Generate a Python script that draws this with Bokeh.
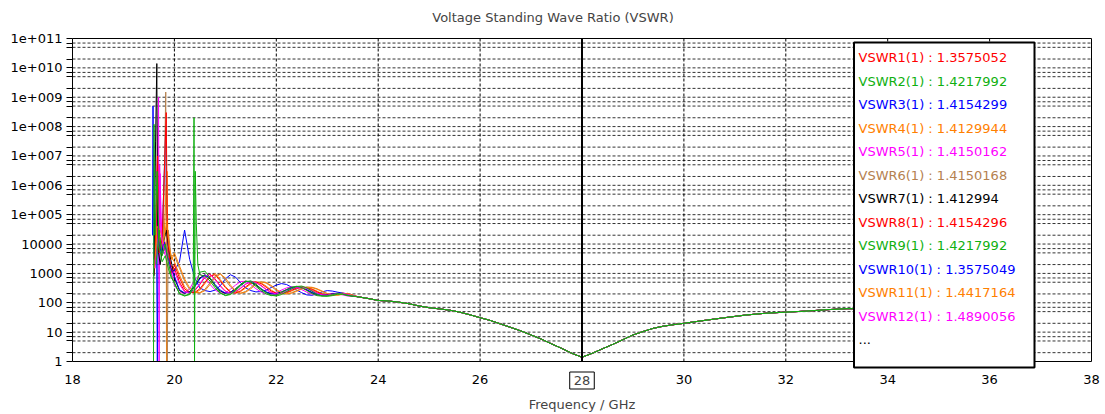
from bokeh.plotting import figure
from bokeh.models import Range1d, FixedTicker, Label, BoxAnnotation
from bokeh.embed import file_html
from bokeh.resources import INLINE

# ---------------- data ----------------
x_ticks = [18, 20, 22, 24, 26, 28, 30, 32, 34, 36, 38]
x_tick_labels = ["18", "20", "22", "24", "26", "28", "30", "32", "34", "36", "38"]
y_ticks = [1, 10, 100, 1000, 10000, 10**5, 10**6, 10**7, 10**8, 10**9, 10**10, 10**11]
y_tick_labels = ["1", "10", "100", "1000", "10000", "1e+005", "1e+006", "1e+007",
                 "1e+008", "1e+009", "1e+010", "1e+011"]
y_minor_mantissas = [2, 5, 7]

legend_names = ["VSWR1(1)", "VSWR2(1)", "VSWR3(1)", "VSWR4(1)", "VSWR5(1)", "VSWR6(1)",
                "VSWR7(1)", "VSWR8(1)", "VSWR9(1)", "VSWR10(1)", "VSWR11(1)", "VSWR12(1)"]
legend_values = ["1.3575052", "1.4217992", "1.4154299", "1.4129944", "1.4150162", "1.4150168",
                 "1.412994", "1.4154296", "1.4217992", "1.3575049", "1.4417164", "1.4890056"]
colors = ["#ff0000", "#10b010", "#0000ff", "#ff8000", "#ff00ff", "#b5814f",
          "#000000", "#ff0000", "#10b010", "#0000ff", "#ff8000", "#ff00ff"]

osc_freq = [20.0, 20.1, 20.2, 20.3, 20.4, 20.5, 20.6, 20.7, 20.8, 20.9, 21.0, 21.1, 21.2,
            21.3, 21.4, 21.5, 21.6, 21.7, 21.8, 21.9, 22.0, 22.1, 22.2, 22.3, 22.4, 22.5,
            22.6, 22.7, 22.8, 22.9, 23.0, 23.1, 23.2, 23.3, 23.4]

tail_freq = [23.6, 23.8, 24.0, 24.2, 24.4, 24.6, 24.8, 25.0, 25.2, 25.4, 25.6, 25.8, 26.0,
             26.2, 26.4, 26.6, 26.8, 27.0, 27.2, 27.4, 27.6, 27.8, 28.0, 28.2, 28.4, 28.6,
             28.8, 29.0, 29.2, 29.4, 29.6, 29.8, 30.0, 30.4, 30.8, 31.2, 31.6, 32.0, 32.4,
             32.8, 33.2, 33.6, 34.0, 34.5, 35.0]
tail_vswr = [160, 140, 120, 115, 105, 93, 78, 68, 62, 56, 48, 39, 31, 25, 19, 14.5, 11, 8,
             5.8, 4.0, 2.8, 1.9, 1.4, 1.9, 2.7, 3.8, 5.5, 8.0, 10.5, 13.5, 16, 18, 20, 25,
             31, 38, 44, 48, 52, 58, 63, 62, 62, 65, 68]

# resonance region (below 20 GHz), per series; 1.0 = drop to the bottom of the scale
sp1_f = [19.60, 19.64, 19.67, 19.69, 19.72, 19.76, 19.80, 19.84, 19.88, 19.93]
sp1_v = [900, 5000, 2e7, 4e4, 8000, 3e4, 6000, 1.2e4, 4000, 1800]
sp2_f = [19.59, 19.60, 19.62, 19.66, 19.70, 19.76, 19.82, 19.88, 19.94]
sp2_v = [1.0, 1.2e8, 2e4, 3e6, 8000, 2500, 4000, 1500, 700]
sp3_f = [19.57, 19.58, 19.60, 19.65, 19.665, 19.68, 19.75, 19.83, 19.845, 19.87, 19.93]
sp3_v = [2e4, 5e8, 3000, 1e4, 1.0, 2e4, 5000, 1e8, 5e4, 8000, 1500]
sp4_f = [19.62, 19.68, 19.74, 19.80, 19.84, 19.845, 19.855, 19.87, 19.92]
sp4_v = [3000, 2e4, 6000, 2e4, 1e6, 1.0, 3e6, 2e4, 4000]
sp5_f = [19.63, 19.69, 19.70, 19.71, 19.75, 19.82, 19.88, 19.94]
sp5_v = [4000, 1e9, 1.0, 5e6, 3e4, 6000, 3000, 1200]
sp6_f = [19.62, 19.70, 19.78, 19.83, 19.86, 19.88, 19.93]
sp6_v = [5000, 2e4, 8000, 1.5e9, 1.0, 3e4, 4000]
sp7_f = [19.60, 19.63, 19.655, 19.67, 19.72, 19.78, 19.84, 19.90, 19.95]
sp7_v = [800, 3e7, 1.4e10, 1e4, 2000, 1e4, 3e4, 5000, 2000]
sp8_f = [19.62, 19.67, 19.70, 19.76, 19.84, 19.86, 19.90, 19.95]
sp8_v = [3000, 1e7, 5000, 1.5e4, 3e8, 3e4, 4000, 1000]
sp10_f = [19.63, 19.68, 19.74, 19.80, 19.86, 19.93]
sp10_v = [2000, 1.5e4, 5000, 1.2e4, 4000, 1500]
sp11_f = [19.61, 19.66, 19.72, 19.78, 19.85, 19.90, 19.95]
sp11_v = [1500, 4e4, 3e4, 1e4, 6e4, 8000, 3000]
sp12_f = [19.62, 19.67, 19.72, 19.73, 19.80, 19.87, 19.94]
sp12_v = [1500, 1e4, 2.5e6, 3e4, 5000, 3000, 900]

# ripple region 20.0 - 23.4 GHz (on osc_freq)
osc1 = [1500, 500, 250, 220, 260, 420, 750, 950, 640, 380, 250, 215, 235, 310, 430, 530, 500,
        390, 285, 225, 200, 210, 240, 290, 335, 345, 310, 260, 215, 188, 182, 190, 205, 208, 195]
osc2 = [500, 200, 170, 190, 350, 1100, 1200, 700, 380, 220, 175, 190, 260, 380, 520, 560, 430,
        300, 220, 180, 170, 190, 240, 300, 360, 370, 320, 250, 195, 170, 165, 175, 195, 200, 180]
osc3 = [1200, 2500, 30000, 3000, 700, 320, 260, 240, 270, 380, 650, 900, 750, 480, 320, 260, 235,
        240, 270, 330, 400, 450, 420, 340, 270, 220, 185, 180, 200, 235, 260, 250, 230, 215, 200]
osc4 = [2500, 900, 350, 230, 215, 270, 450, 780, 1000, 620, 360, 240, 210, 240, 320, 440, 520,
        480, 370, 270, 215, 200, 215, 250, 300, 340, 335, 300, 250, 205, 185, 180, 195, 210, 205]
osc5 = [400, 220, 215, 300, 600, 950, 700, 420, 270, 215, 220, 290, 400, 530, 540, 420, 300,
        235, 200, 200, 225, 270, 320, 350, 330, 280, 230, 195, 180, 182, 195, 210, 208, 185, 170]
osc6 = [4000, 1500, 550, 280, 220, 220, 290, 480, 800, 1000, 600, 350, 240, 210, 245, 330, 450,
        520, 470, 360, 265, 215, 200, 220, 260, 310, 345, 330, 290, 240, 200, 185, 183, 198, 210]
osc7 = [700, 260, 210, 240, 380, 700, 900, 650, 380, 250, 210, 230, 300, 420, 540, 520, 400,
        290, 230, 200, 205, 235, 280, 330, 350, 320, 270, 220, 190, 180, 185, 200, 210, 205, 180]
osc8 = [2000, 700, 300, 220, 225, 300, 500, 820, 900, 560, 330, 230, 215, 255, 350, 470, 510,
        450, 340, 250, 210, 205, 225, 265, 315, 345, 325, 285, 235, 198, 182, 183, 200, 212, 200]
osc10 = [800, 280, 215, 235, 350, 650, 880, 700, 420, 270, 215, 225, 285, 400, 520, 530, 420,
         305, 235, 205, 200, 225, 270, 320, 350, 330, 280, 228, 195, 180, 182, 196, 208, 207, 185]
osc11 = [5000, 1800, 650, 320, 230, 215, 260, 420, 720, 950, 700, 400, 260, 212, 230, 300, 420,
         510, 490, 390, 285, 222, 200, 212, 245, 295, 335, 338, 300, 250, 208, 186, 180, 192, 206]
osc12 = [1200, 420, 235, 215, 270, 450, 800, 920, 600, 360, 240, 212, 240, 320, 440, 525, 490,
         380, 280, 222, 200, 212, 245, 295, 338, 340, 305, 255, 212, 186, 181, 192, 206, 207, 192]

# series 9 has its own grid (extra resonance near 20.4 GHz)
head9_f = [19.64, 19.70, 19.76, 19.82, 19.88, 19.94, 20.0, 20.1, 20.2, 20.3, 20.37, 20.385,
           20.395, 20.41, 20.43, 20.46, 20.5, 20.6, 20.7, 20.8, 20.9, 21.0, 21.1, 21.2, 21.3,
           21.4, 21.5, 21.6, 21.7, 21.8, 21.9, 22.0, 22.1, 22.2, 22.3, 22.4, 22.5, 22.6, 22.7,
           22.8, 22.9, 23.0, 23.1, 23.2, 23.3, 23.4]
head9_v = [2000, 3e4, 4000, 1e4, 2500, 800, 450, 210, 175, 200, 400, 2e8, 1.0, 3e6, 5e4, 2000,
           900, 800, 550, 320, 210, 180, 200, 280, 420, 550, 500, 360, 260, 200, 175, 180, 220,
           280, 340, 365, 330, 260, 205, 175, 168, 172, 190, 205, 195, 175]

series = {
    1: (sp1_f + osc_freq, sp1_v + osc1),
    2: (sp2_f + osc_freq, sp2_v + osc2),
    3: (sp3_f + osc_freq, sp3_v + osc3),
    4: (sp4_f + osc_freq, sp4_v + osc4),
    5: (sp5_f + osc_freq, sp5_v + osc5),
    6: (sp6_f + osc_freq, sp6_v + osc6),
    7: (sp7_f + osc_freq, sp7_v + osc7),
    8: (sp8_f + osc_freq, sp8_v + osc8),
    9: (head9_f, head9_v),
    10: (sp10_f + osc_freq, sp10_v + osc10),
    11: (sp11_f + osc_freq, sp11_v + osc11),
    12: (sp12_f + osc_freq, sp12_v + osc12),
}
marker_freq = 28

# ---------------- layout constants (pixels) ----------------
FONT = "DejaVu Sans"
W, H = 1105, 414
FRAME_T = 30                  # below the title; frame covers the rest of the canvas
PX_X18, PX_X38 = 72, 1091     # columns of 18 GHz and 38 GHz
PX_Y1, PX_Y11 = 361, 38       # rows of VSWR 1 and 1e11
PX_PER_GHZ = (PX_X38 - PX_X18) / 20.0
DEC = (PX_Y1 - PX_Y11) / 11.0
x_start = 18 - PX_X18 / PX_PER_GHZ
x_end = 38 + (W - PX_X38) / PX_PER_GHZ
y_top = 10 ** (11 + (PX_Y11 - FRAME_T) / DEC)
y_bot = 10 ** (-(H - PX_Y1) / DEC)


def y_at(row):
    return 10 ** ((PX_Y1 - row) / DEC)


def x_at(col):
    return 18 + (col - PX_X18) / PX_PER_GHZ


p = figure(width=W, height=H, x_range=Range1d(x_start, x_end), y_range=Range1d(y_bot, y_top),
           y_axis_type="log", output_backend="svg", toolbar_location=None,
           title="Voltage Standing Wave Ratio (VSWR)")
p.min_border_left = 0
p.min_border_right = 0
p.min_border_top = FRAME_T
p.min_border_bottom = 0
p.background_fill_color = "white"
p.border_fill_color = "white"
p.outline_line_color = None

p.title.align = "center"
p.title.offset = 0
p.title.text_font = FONT
p.title.text_font_size = "13px"
p.title.text_font_style = "normal"
p.title.standoff = 12

# x axis at VSWR = 1, y axis at 18 GHz (both inside the frame)
p.xaxis.fixed_location = 1
p.xaxis.ticker = FixedTicker(ticks=x_ticks)
p.xaxis.bounds = (18, 38)
p.xaxis.major_label_overrides = {t: ("" if t == marker_freq else lab)
                                 for t, lab in zip(x_ticks, x_tick_labels)}
p.xaxis.axis_label = "Frequency / GHz"
p.xaxis.axis_label_text_font = FONT
p.xaxis.axis_label_text_font_size = "13px"
p.xaxis.axis_label_text_font_style = "normal"
p.xaxis.axis_label_standoff = 10
p.xaxis.major_tick_out = 0
p.xaxis.major_tick_in = 0
p.xaxis.minor_tick_out = 0
p.xaxis.minor_tick_in = 0
p.xaxis.major_label_standoff = 13

y_minor = [m * t for t in y_ticks[:-1] for m in y_minor_mantissas]
yticker = FixedTicker(ticks=y_ticks, minor_ticks=y_minor)
p.yaxis.fixed_location = 18
p.yaxis.ticker = yticker
p.yaxis.bounds = (1, 10**11)
p.yaxis.major_label_overrides = {t: lab for t, lab in zip(y_ticks, y_tick_labels)}
p.yaxis.major_tick_out = 6
p.yaxis.major_tick_in = 0
p.yaxis.minor_tick_out = 6
p.yaxis.minor_tick_in = 0
p.yaxis.major_label_standoff = 4

for ax in (p.xaxis, p.yaxis):
    ax.axis_line_color = "black"
    ax.major_tick_line_color = "black"
    ax.minor_tick_line_color = "black"
    ax.major_label_text_font = FONT
    ax.major_label_text_font_size = "13px"
    ax.major_label_text_color = "black"

# grid lines, limited to the 18-38 GHz / 1-1e11 box
p.xgrid.visible = False
p.ygrid.visible = False
hy = sorted(y_ticks[1:-1] + y_minor)
p.segment(x0=[x_ticks[0]] * len(hy), y0=hy, x1=[x_ticks[-1]] * len(hy), y1=hy,
          line_color="#333333", line_dash="3 2", line_width=1, level="underlay")
vx = x_ticks[1:-1]
p.segment(x0=vx, y0=[y_ticks[0]] * len(vx), x1=vx, y1=[y_ticks[-1]] * len(vx),
          line_color="black", line_dash="3 2", line_width=1, level="underlay")

# plot border (top and right)
p.segment(x0=[x_ticks[0], x_ticks[-1]], y0=[y_ticks[-1], y_ticks[0]],
          x1=[x_ticks[-1], x_ticks[-1]], y1=[y_ticks[-1], y_ticks[-1]],
          line_color="black", line_width=1, level="underlay")

# curves
order = [1, 3, 4, 5, 6, 7, 8, 10, 11, 12, 2, 9]
for k in order:
    f, v = series[k]
    p.line(f + tail_freq, v + tail_vswr, line_color=colors[k - 1], line_width=1)

# marker line at 28 GHz with boxed tick label
p.segment(x0=[marker_freq], y0=[y_ticks[0]], x1=[marker_freq], y1=[y_ticks[-1]],
          line_color="black", line_width=2)
p.add_layout(Label(x=marker_freq, y=y_at(380), text="28",
                   text_align="center", text_baseline="middle", text_font=FONT,
                   text_font_size="13px", border_line_color="black", border_line_width=1,
                   border_line_alpha=1.0, background_fill_color="white",
                   background_fill_alpha=1.0, padding=4))

# legend box
p.add_layout(BoxAnnotation(left=x_at(853.5), right=x_at(1034), top=y_at(42), bottom=y_at(367),
                           fill_color="white", fill_alpha=1.0, line_color="black",
                           line_alpha=1.0, line_width=2, level="annotation"))
for i, (name, val) in enumerate(zip(legend_names, legend_values)):
    p.add_layout(Label(x=x_at(858), y=y_at(57.3 + 23.5 * i),
                       text=f"{name} : {val}", text_color=colors[i], text_font=FONT,
                       text_font_size="13px", text_baseline="middle"))
p.add_layout(Label(x=x_at(858), y=y_at(57.3 + 23.5 * 12), text="...",
                   text_color="#000000", text_font=FONT, text_font_size="13px",
                   text_baseline="middle"))

open("out.html", "w").write(file_html(p, INLINE))
